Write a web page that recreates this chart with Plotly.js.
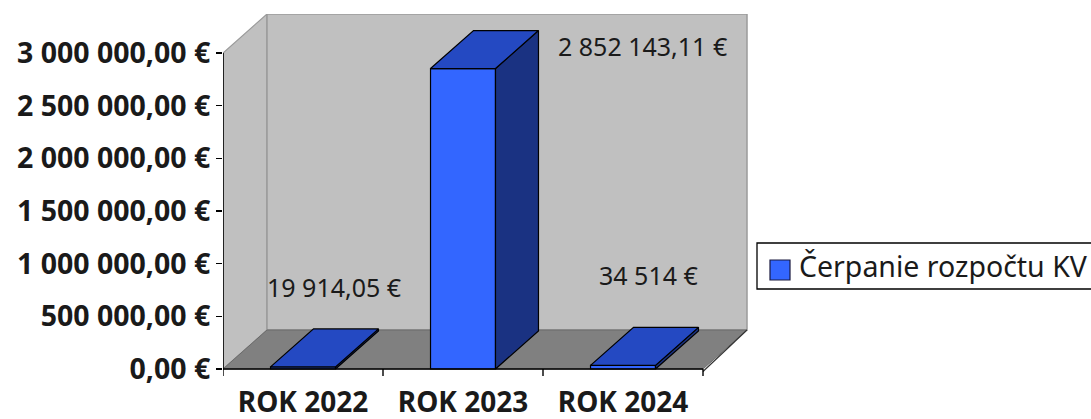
<!DOCTYPE html>
<html>
<head>
<meta charset="utf-8">
<script src="https://cdn.plot.ly/plotly-3.0.1.min.js"></script>
<style>
  html, body { margin: 0; padding: 0; background: #ffffff; }
  #chart { width: 1091px; height: 419px; }
</style>
</head>
<body>
<div id="chart"></div>
<script>
// ---------- data ----------
const categories = ["ROK 2022", "ROK 2023", "ROK 2024"];
const values = [19914.05, 2852143.11, 34514];
const seriesName = "Čerpanie rozpočtu KV";
const yTickValues = [0, 500000, 1000000, 1500000, 2000000, 2500000, 3000000];

// ---------- geometry (pixels of the 1091x419 frame) ----------
const W = 1091, H = 419;
const PX_LEFT = 223, PX_RIGHT = 750;
const PX_TOP = 14, PX_ZERO = 369, PX_BOTTOM = 377;
const PX_YMAX = 53;                 // pixel row of the top tick
const CAT_PX = 160;                 // pixels per category
const yMaxTick = yTickValues[yTickValues.length - 1];
const pxPerVal = (PX_ZERO - PX_YMAX) / yMaxTick;

const xRange = [-0.5, -0.5 + (PX_RIGHT - PX_LEFT) / CAT_PX];
const yRange = [-(PX_BOTTOM - PX_ZERO) / pxPerVal, (PX_ZERO - PX_TOP) / pxPerVal];

// depth of the 3-D walls / bars
const DX = 44 / CAT_PX, DY = 39 / pxPerVal;
const DXB = 43 / CAT_PX, DYB = 38 / pxPerVal;
const BAR_W = 0.406;

const X0 = -0.5, X1 = categories.length - 0.5;

const FRONT = "#3366ff", TOP = "#2449c2", SIDE = "#1a3282";
const WALL = "#c0c0c0", FLOOR = "#808080";
const FONT = "Noto Sans";

function fmt(v, forceDec) {
  const hasDec = forceDec || Math.abs(v - Math.round(v)) > 1e-9;
  let s = hasDec ? v.toFixed(2) : String(Math.round(v));
  let [ip, dp] = s.split(".");
  ip = ip.replace(/\B(?=(\d{3})+(?!\d))/g, " ");
  return ip + (dp ? "," + dp : "") + " €";
}

// ---------- traces ----------
const traces = [];
const idx = categories.map((c, i) => i);

// front faces
traces.push({
  type: "bar", x: idx, y: values, width: BAR_W, name: seriesName,
  marker: { color: FRONT, line: { color: "#000000", width: 1.2 } },
  hoverinfo: "skip", showlegend: false
});

// side and top faces
values.forEach((v, i) => {
  const l = i - BAR_W / 2, r = i + BAR_W / 2;
  traces.push({
    type: "scatter", mode: "lines", fill: "toself", fillcolor: SIDE,
    x: [r, r, r + DXB, r + DXB, r], y: [0, v, v + DYB, DYB, 0],
    line: { color: "#000000", width: 1.2 }, hoverinfo: "skip", showlegend: false
  });
  traces.push({
    type: "scatter", mode: "lines", fill: "toself", fillcolor: TOP,
    x: [l, r, r + DXB, l + DXB, l], y: [v, v, v + DYB, v + DYB, v],
    line: { color: "#000000", width: 1.2 }, hoverinfo: "skip", showlegend: false
  });
});

// ---------- shapes (walls, floor, axis lines, ticks, legend) ----------
const shapes = [];
// left wall
shapes.push({ type: "path", layer: "below", xref: "x", yref: "y",
  path: `M${X0},0 L${X0},${yMaxTick} L${X0 + DX},${yMaxTick + DY} L${X0 + DX},${DY} Z`,
  fillcolor: WALL, line: { color: "#9a9a9a", width: 1.2 } });
// back wall
shapes.push({ type: "rect", layer: "below", xref: "x", yref: "y",
  x0: X0 + DX, x1: X1 + DX, y0: DY, y1: yMaxTick + DY,
  fillcolor: WALL, line: { color: "#9a9a9a", width: 1.5 } });
// floor
shapes.push({ type: "path", layer: "below", xref: "x", yref: "y",
  path: `M${X0},0 L${X1},0 L${X1 + DX},${DY} L${X0 + DX},${DY} Z`,
  fillcolor: FLOOR, line: { color: "#6a6a6a", width: 1 } });
// floor right edge (slab)
shapes.push({ type: "line", layer: "below", xref: "x", yref: "y",
  x0: X1, y0: -2.5 / pxPerVal, x1: X1 + DX, y1: DY,
  line: { color: "#333333", width: 1.2 } });
// axis lines
shapes.push({ type: "line", xref: "x", yref: "y", x0: X0, x1: X0, y0: 0, y1: yMaxTick,
  line: { color: "#000000", width: 1.6 } });
shapes.push({ type: "line", xref: "x", yref: "y", x0: X0, x1: X1, y0: 0, y1: 0,
  line: { color: "#000000", width: 1.6 } });
// category boundary ticks
for (let b = 0; b <= categories.length; b++) {
  shapes.push({ type: "line", xref: "x", yref: "y", x0: b - 0.5, x1: b - 0.5,
    y0: 0, y1: -7 / pxPerVal, line: { color: "#000000", width: 1.4 } });
}

// legend (paper coordinates derived from pixel frame)
const pw = PX_RIGHT - PX_LEFT, ph = PX_BOTTOM - PX_TOP;
const px2x = p => (p - PX_LEFT) / pw;
const px2y = p => (PX_BOTTOM - p) / ph;
shapes.push({ type: "rect", xref: "paper", yref: "paper",
  x0: px2x(757), x1: px2x(1100), y0: px2y(289), y1: px2y(243),
  fillcolor: "#ffffff", line: { color: "#000000", width: 1.3 } });
shapes.push({ type: "rect", xref: "paper", yref: "paper",
  x0: px2x(770), x1: px2x(790), y0: px2y(280), y1: px2y(260),
  fillcolor: FRONT, line: { color: "#1a1a40", width: 1.2 } });

// ---------- annotations ----------
const labelShift = [[31, 80], [179, 23], [25, 90]];
const annotations = values.map((v, i) => ({
  x: i, y: v, xref: "x", yref: "y", text: fmt(v, false), showarrow: false,
  xanchor: "center", yanchor: "middle",
  xshift: labelShift[i][0], yshift: labelShift[i][1],
  font: { family: FONT, size: 25, color: "#1a1a1a" }
}));
annotations.push({
  x: px2x(797), y: px2y(266), xref: "paper", yref: "paper", text: seriesName,
  showarrow: false, xanchor: "left", yanchor: "middle",
  font: { family: FONT, size: 28.5, color: "#1a1a1a" }
});

const layout = {
  width: W, height: H,
  margin: { l: PX_LEFT, r: W - PX_RIGHT, t: PX_TOP, b: H - PX_BOTTOM, pad: 0, autoexpand: false },
  paper_bgcolor: "#ffffff", plot_bgcolor: "rgba(0,0,0,0)",
  showlegend: false,
  font: { family: FONT, color: "#1a1a1a" },
  xaxis: {
    type: "linear", range: xRange, fixedrange: true,
    tickvals: idx, ticktext: categories, ticks: "",
    showgrid: false, zeroline: false, showline: false,
    tickfont: { family: FONT, size: 28, color: "#1a1a1a", weight: "bold" },
    ticklabelstandoff: 6
  },
  yaxis: {
    type: "linear", range: yRange, fixedrange: true,
    tickvals: yTickValues, ticktext: yTickValues.map(v => fmt(v, true)),
    ticks: "outside", ticklen: 6, tickwidth: 1.4, tickcolor: "#000000",
    showgrid: false, zeroline: false, showline: false,
    tickfont: { family: FONT, size: 28.5, color: "#1a1a1a", weight: "bold" },
    ticklabelstandoff: 0
  },
  shapes: shapes,
  annotations: annotations
};

Plotly.newPlot("chart", traces, layout, { staticPlot: true, displayModeBar: false });
</script>
</body>
</html>
